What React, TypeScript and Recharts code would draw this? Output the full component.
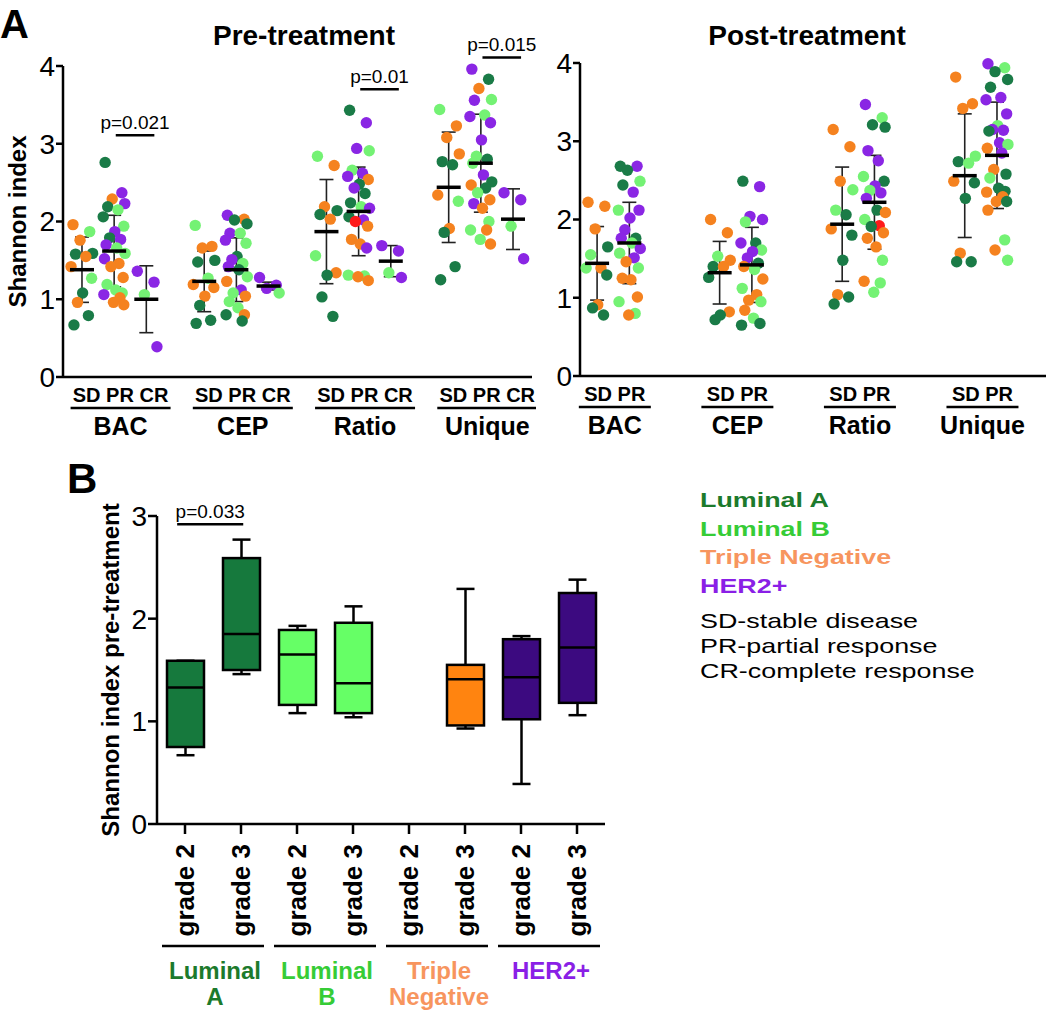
import {
  Bar,
  ComposedChart,
  ErrorBar,
  Line,
  ReferenceLine,
  Scatter,
  ScatterChart,
  XAxis,
  YAxis
} from "recharts";

type Pt = [number, string];

// a = Luminal A, b = Luminal B, t = Triple Negative, h = HER2+, r = highlighted sample
const measures = ["BAC", "CEP", "Ratio", "Unique"];
const preResponses = ["SD", "PR", "CR"];
const postResponses = ["SD", "PR"];

const preBacSD: Pt[] = [[1.96, "t"], [1.87, "b"], [1.76, "t"], [1.59, "a"], [1.58, "a"], [1.55, "t"], [1.42, "t"], [1.27, "b"], [1.08, "a"], [0.96, "t"], [0.79, "a"], [0.67, "a"]];
const preBacPR: Pt[] = [[2.76, "a"], [2.37, "h"], [2.29, "t"], [2.23, "h"], [2.19, "a"], [2.15, "b"], [2.06, "a"], [1.94, "b"], [1.87, "h"], [1.79, "a"], [1.77, "h"], [1.7, "h"], [1.66, "b"], [1.59, "b"], [1.52, "h"], [1.46, "t"], [1.42, "t"], [1.28, "t"], [1.19, "b"], [1.12, "b"], [1.08, "b"], [1.06, "h"], [1.02, "t"], [0.96, "t"], [0.93, "t"]];
const preBacCR: Pt[] = [[1.36, "h"], [1.22, "h"], [1.06, "b"], [0.39, "h"]];
const preCepSD: Pt[] = [[1.95, "b"], [1.68, "t"], [1.66, "t"], [1.5, "a"], [1.48, "a"], [1.27, "b"], [1.19, "t"], [1.15, "t"], [1.04, "t"], [0.92, "a"], [0.73, "a"], [0.69, "a"]];
const preCepPR: Pt[] = [[2.08, "h"], [2.03, "t"], [2.02, "a"], [1.97, "a"], [1.85, "h"], [1.85, "b"], [1.76, "h"], [1.72, "b"], [1.55, "a"], [1.51, "h"], [1.46, "b"], [1.42, "h"], [1.38, "a"], [1.29, "b"], [1.23, "t"], [1.12, "h"], [1.08, "b"], [1.04, "t"], [0.97, "b"], [0.89, "b"], [0.8, "t"], [0.8, "a"], [0.72, "a"]];
const preCepCR: Pt[] = [[1.28, "h"], [1.18, "h"], [1.14, "h"], [1.08, "b"]];
const preRatioSD: Pt[] = [[2.84, "b"], [2.72, "t"], [2.19, "t"], [2.14, "a"], [2.09, "a"], [2.03, "t"], [1.56, "b"], [1.34, "t"], [1.31, "a"], [1.03, "a"], [0.78, "a"]];
const preRatioPR: Pt[] = [[3.43, "a"], [3.27, "h"], [2.94, "h"], [2.91, "b"], [2.66, "b"], [2.62, "h"], [2.58, "h"], [2.54, "t"], [2.48, "a"], [2.43, "h"], [2.36, "a"], [2.24, "a"], [2.19, "b"], [2.17, "h"], [2.06, "a"], [2.02, "h"], [2.0, "r"], [1.94, "t"], [1.77, "t"], [1.71, "t"], [1.66, "h"], [1.31, "b"], [1.3, "b"], [1.29, "t"], [1.24, "t"]];
const preRatioCR: Pt[] = [[1.69, "h"], [1.62, "h"], [1.34, "b"], [1.28, "h"]];
const preUniqueSD: Pt[] = [[3.44, "b"], [3.23, "t"], [3.08, "t"], [2.87, "t"], [2.77, "a"], [2.73, "a"], [2.34, "t"], [2.26, "b"], [1.91, "t"], [1.86, "a"], [1.42, "a"], [1.25, "a"]];
const preUniquePR: Pt[] = [[3.96, "h"], [3.83, "a"], [3.71, "t"], [3.57, "b"], [3.56, "h"], [3.37, "b"], [3.35, "h"], [3.27, "h"], [3.05, "h"], [2.84, "b"], [2.8, "a"], [2.75, "b"], [2.6, "h"], [2.51, "a"], [2.47, "t"], [2.43, "a"], [2.37, "b"], [2.28, "t"], [2.23, "h"], [2.17, "t"], [2.0, "b"], [1.89, "b"], [1.89, "t"], [1.77, "b"], [1.71, "t"]];
const preUniqueCR: Pt[] = [[2.37, "h"], [2.28, "h"], [1.94, "b"], [1.52, "h"]];

const postBacSD: Pt[] = [[2.22, "t"], [2.17, "t"], [1.88, "t"], [1.65, "a"], [1.55, "b"], [1.38, "t"], [1.38, "b"], [1.29, "a"], [0.91, "t"], [0.87, "a"], [0.78, "a"]];
const postBacPR: Pt[] = [[2.68, "a"], [2.68, "h"], [2.63, "a"], [2.49, "b"], [2.44, "a"], [2.35, "h"], [2.12, "b"], [2.12, "h"], [2.02, "h"], [1.87, "h"], [1.76, "a"], [1.76, "h"], [1.7, "b"], [1.63, "h"], [1.57, "b"], [1.51, "h"], [1.46, "t"], [1.38, "b"], [1.25, "t"], [1.23, "t"], [1.01, "t"], [0.95, "b"], [0.8, "b"], [0.78, "t"]];
const postCepSD: Pt[] = [[2.0, "t"], [1.83, "t"], [1.53, "b"], [1.48, "t"], [1.4, "a"], [1.4, "t"], [1.26, "a"], [0.82, "t"], [0.78, "a"], [0.72, "a"]];
const postCepPR: Pt[] = [[2.49, "a"], [2.42, "h"], [2.04, "h"], [2.0, "h"], [1.97, "b"], [1.7, "a"], [1.7, "h"], [1.61, "b"], [1.59, "h"], [1.51, "h"], [1.44, "a"], [1.4, "t"], [1.36, "b"], [1.24, "t"], [1.12, "b"], [1.04, "t"], [0.97, "t"], [0.95, "b"], [0.84, "t"], [0.74, "b"], [0.67, "a"], [0.65, "a"]];
const postRatioSD: Pt[] = [[3.15, "t"], [2.93, "t"], [2.49, "t"], [2.38, "b"], [2.12, "b"], [2.06, "a"], [1.88, "t"], [1.8, "a"], [1.48, "a"], [1.04, "t"], [1.01, "a"], [0.92, "a"]];
const postRatioPR: Pt[] = [[3.47, "h"], [3.3, "b"], [3.21, "a"], [3.18, "a"], [2.88, "h"], [2.75, "h"], [2.55, "b"], [2.49, "a"], [2.43, "h"], [2.37, "b"], [2.34, "h"], [2.27, "h"], [2.12, "a"], [2.09, "t"], [2.0, "b"], [1.92, "r"], [1.91, "a"], [1.83, "t"], [1.76, "t"], [1.65, "t"], [1.48, "b"], [1.21, "t"], [1.19, "b"], [1.07, "b"]];
const postUniqueSD: Pt[] = [[3.82, "t"], [3.48, "t"], [3.42, "t"], [2.81, "b"], [2.74, "a"], [2.72, "b"], [2.49, "t"], [2.47, "a"], [2.27, "a"], [1.57, "t"], [1.46, "a"], [1.46, "a"]];
const postUniquePR: Pt[] = [[3.99, "h"], [3.94, "b"], [3.89, "a"], [3.79, "a"], [3.69, "a"], [3.56, "h"], [3.53, "h"], [3.35, "h"], [3.2, "b"], [3.15, "h"], [3.14, "h"], [3.13, "a"], [2.98, "h"], [2.96, "b"], [2.91, "t"], [2.85, "h"], [2.64, "t"], [2.58, "a"], [2.53, "b"], [2.4, "a"], [2.36, "a"], [2.35, "t"], [2.29, "t"], [2.23, "t"], [2.23, "a"], [2.12, "t"], [1.74, "b"], [1.61, "t"], [1.48, "b"]];

// mean and SD per measure, per response
const preMean = [[1.38, 1.62, 1.0], [1.23, 1.38, 1.17], [1.87, 2.13, 1.49], [2.44, 2.75, 2.03]];
const preSd = [[0.42, 0.46, 0.43], [0.39, 0.41, 0.05], [0.67, 0.57, 0.2], [0.71, 0.63, 0.39]];
const postMean = [[1.44, 1.7], [1.32, 1.42], [1.94, 2.22], [2.56, 2.82]];
const postSd = [[0.47, 0.52], [0.4, 0.48], [0.73, 0.6], [0.79, 0.68]];

// significance bars (measure index, height, text)
const preTests = [
  { g: 0, y: 3.11, text: "p=0.021" },
  { g: 2, y: 3.7, text: "p=0.01" },
  { g: 3, y: 4.11, text: "p=0.015" }
];

// panel B
const subtypes = ["Luminal A", "Luminal B", "Triple Negative", "HER2+"];
const subtypeLines = [["Luminal", "A"], ["Luminal", "B"], ["Triple", "Negative"], ["HER2+"]];
const grades = ["grade 2", "grade 3", "grade 2", "grade 3", "grade 2", "grade 3", "grade 2", "grade 3"];
const boxMin = [0.67, 1.46, 1.08, 1.04, null, 0.93, 0.39, 1.06];
const boxQ1 = [0.75, 1.5, 1.16, 1.08, null, 0.96, 1.02, 1.18];
const boxMed = [1.33, 1.85, 1.65, 1.37, null, 1.41, 1.43, 1.72];
const boxQ3 = [1.59, 2.59, 1.89, 1.96, null, 1.55, 1.8, 2.25];
const boxMax = [1.59, 2.77, 1.93, 2.12, null, 2.29, 1.83, 2.38];
const responseKey = ["SD-stable disease", "PR-partial response", "CR-complete response"];

const FONT = '"Liberation Sans", Arial, Helvetica, sans-serif';
const DOT: Record<string, string> = { a: "#1a7b47", b: "#74f274", t: "#f5821f", h: "#8a26e4", r: "#ff1a1a" };
const BOX = ["#16793d", "#66ff66", "#ff8410", "#3c0a80"];
const TXT = ["#1c7a2c", "#36cc36", "#f7955e", "#8a1fe6"];
const GSTEP = 3.8;
const JITTER = [-0.28, 0.24, -0.06, 0.33, -0.2, 0.12, -0.34, 0.3, 0.02, -0.14, 0.2, -0.25, 0.08, 0.34, -0.3, 0.15, -0.1, 0.28, -0.22, 0.05, 0.25, -0.32, 0.18, -0.02, 0.3];

const preCells = [[preBacSD, preBacPR, preBacCR], [preCepSD, preCepPR, preCepCR], [preRatioSD, preRatioPR, preRatioCR], [preUniqueSD, preUniquePR, preUniqueCR]];
const postCells = [[postBacSD, postBacPR], [postCepSD, postCepPR], [postRatioSD, postRatioPR], [postUniqueSD, postUniquePR]];

function toPoints(cells: Pt[][][]) {
  const out: { x: number; y: number; s: string }[] = [];
  cells.forEach((grp, g) =>
    grp.forEach((cell, r) =>
      cell.forEach(([v, s], i) => out.push({ x: g * GSTEP + r + JITTER[i % JITTER.length], y: v, s }))
    )
  );
  return out;
}

function toStats(means: number[][], sds: number[][]) {
  const out: { x: number; y: number; sd: number }[] = [];
  means.forEach((row, g) => row.forEach((m, r) => out.push({ x: g * GSTEP + r, y: m, sd: sds[g][r] })));
  return out;
}

function Dot(props: any) {
  const { cx, cy, payload } = props;
  if (cx == null || cy == null) return null;
  return <circle cx={cx} cy={cy} r={5.7} fill={DOT[payload.s]} />;
}

function MeanBar(props: any) {
  const { cx, cy } = props;
  if (cx == null || cy == null) return null;
  return <line x1={cx - 12} x2={cx + 12} y1={cy} y2={cy} stroke="#000" strokeWidth={3.5} />;
}

function GroupTick(props: any) {
  const { x, y, payload, resp, lineW } = props;
  return (
    <g>
      <text x={x} y={y + 25} textAnchor="middle" fontSize={20} fontWeight="bold" fill="#000">
        {resp}
      </text>
      <line x1={x - lineW / 2} x2={x + lineW / 2} y1={y + 31} y2={y + 31} stroke="#000" strokeWidth={2.5} />
      <text x={x} y={y + 58} textAnchor="middle" fontSize={25} fontWeight="bold" fill="#000">
        {measures[payload.index]}
      </text>
    </g>
  );
}

type ResponseChartProps = {
  cells: Pt[][][];
  means: number[][];
  sds: number[][];
  responses: string[];
  domain: [number, number];
  tickShift: number;
  lineW: number;
  width: number;
  top: number;
  plotH: number;
  yWidth: number;
  yLabel?: string;
  tests: { g: number; y: number; text: string }[];
};

function ResponseChart(p: ResponseChartProps) {
  const points = toPoints(p.cells);
  const stats = toStats(p.means, p.sds);
  const ticks = measures.map((_, g) => g * GSTEP + p.tickShift);
  return (
    <ScatterChart width={p.width} height={445} margin={{ top: p.top, right: 4, bottom: 0, left: 0 }}>
      <XAxis
        type="number"
        dataKey="x"
        domain={p.domain}
        ticks={ticks}
        interval={0}
        tickLine={false}
        tickSize={0}
        tickMargin={0}
        height={445 - p.top - p.plotH}
        axisLine={{ stroke: "#000", strokeWidth: 2.5 }}
        tick={<GroupTick resp={p.responses.join(" ")} lineW={p.lineW} />}
      />
      <YAxis
        type="number"
        dataKey="y"
        domain={[0, 4]}
        ticks={[0, 1, 2, 3, 4]}
        interval={0}
        width={p.yWidth}
        axisLine={{ stroke: "#000", strokeWidth: 2.5 }}
        tickLine={{ stroke: "#000", strokeWidth: 2.5 }}
        tickSize={7}
        tickMargin={1}
        tick={{ fontSize: 28, fill: "#000" }}
        label={
          p.yLabel
            ? {
                value: p.yLabel,
                angle: -90,
                position: "insideLeft",
                offset: 17,
                fontSize: 24,
                fontWeight: "bold",
                fill: "#000",
                style: { textAnchor: "middle" }
              }
            : undefined
        }
      />
      <Scatter data={points} isAnimationActive={false} shape={Dot} />
      <Scatter data={stats} isAnimationActive={false} shape={MeanBar}>
        <ErrorBar dataKey="sd" direction="y" width={7} stroke="#222" strokeWidth={1.6} />
      </Scatter>
      {p.tests.map((t) => (
        <ReferenceLine
          key={t.text}
          segment={[
            { x: t.g * GSTEP + 1.05, y: t.y },
            { x: t.g * GSTEP + 2.25, y: t.y }
          ]}
          stroke="#000"
          strokeWidth={2.5}
          ifOverflow="visible"
          label={{ value: t.text, position: "top", offset: 6, fontSize: 19, fill: "#000" }}
        />
      ))}
    </ScatterChart>
  );
}

function GradeTick(props: any) {
  const { x, y, payload } = props;
  return (
    <text
      transform={`translate(${x},${y + 10}) rotate(-90)`}
      textAnchor="end"
      dominantBaseline="central"
      fontSize={26}
      fontWeight="bold"
      fill="#000"
    >
      {grades[payload.value]}
    </text>
  );
}

function SubtypeTick(props: any) {
  const { x, y, payload } = props;
  const i = payload.index;
  return (
    <g>
      <line x1={x - 51} x2={x + 51} y1={y + 22} y2={y + 22} stroke="#000" strokeWidth={2.5} />
      {subtypeLines[i].map((s, k) => (
        <text key={s} x={x + 2} y={y + 55 + k * 26} textAnchor="middle" fontSize={24} fontWeight="bold" fill={TXT[i]}>
          {s}
        </text>
      ))}
    </g>
  );
}

function BoxShape(props: any) {
  const { x, y, width, height, payload } = props;
  if (payload.min == null || !height) return null;
  const ppu = height / (payload.max - payload.min);
  const py = (v: number) => y + (payload.max - v) * ppu;
  const cx = x + width / 2;
  const cap = 9;
  return (
    <g>
      <line x1={cx} x2={cx} y1={py(payload.max)} y2={py(payload.min)} stroke="#000" strokeWidth={2.5} />
      <line x1={cx - cap} x2={cx + cap} y1={py(payload.max)} y2={py(payload.max)} stroke="#000" strokeWidth={2.5} />
      <line x1={cx - cap} x2={cx + cap} y1={py(payload.min)} y2={py(payload.min)} stroke="#000" strokeWidth={2.5} />
      <rect
        x={x}
        y={py(payload.q3)}
        width={width}
        height={py(payload.q1) - py(payload.q3)}
        fill={payload.color}
        stroke="#000"
        strokeWidth={2.5}
      />
      <line x1={x} x2={x + width} y1={py(payload.med)} y2={py(payload.med)} stroke="#000" strokeWidth={2.5} />
    </g>
  );
}

function GradeChart() {
  const data = grades.map((g, i) => ({
    x: i,
    grade: g,
    min: boxMin[i],
    q1: boxQ1[i],
    med: boxMed[i],
    q3: boxQ3[i],
    max: boxMax[i],
    color: BOX[Math.floor(i / 2)]
  }));
  return (
    <ComposedChart width={620} height={562} data={data} margin={{ top: 66, right: 15, bottom: 0, left: 0 }}>
      <XAxis
        xAxisId="a"
        type="number"
        dataKey="x"
        domain={[-0.5, 7.5]}
        allowDataOverflow
        ticks={grades.map((_, i) => i)}
        interval={0}
        height={100}
        tickSize={10}
        tickMargin={0}
        axisLine={{ stroke: "#000", strokeWidth: 2.5 }}
        tickLine={{ stroke: "#000", strokeWidth: 2.5 }}
        tick={<GradeTick />}
      />
      <XAxis
        xAxisId="b"
        type="number"
        dataKey="x"
        domain={[-0.5, 7.5]}
        allowDataOverflow
        ticks={subtypes.map((_, i) => i * 2 + 0.5)}
        interval={0}
        height={88}
        tickSize={0}
        tickMargin={0}
        axisLine={false}
        tickLine={false}
        tick={<SubtypeTick />}
      />
      <YAxis
        type="number"
        domain={[0, 3]}
        ticks={[0, 1, 2, 3]}
        interval={0}
        width={157}
        axisLine={{ stroke: "#000", strokeWidth: 2.5 }}
        tickLine={{ stroke: "#000", strokeWidth: 2.5 }}
        tickSize={9}
        tickMargin={1}
        tick={{ fontSize: 28, fill: "#000" }}
        label={{
          value: "Shannon index pre-treatment",
          angle: -90,
          position: "insideLeft",
          offset: 110,
          fontSize: 24,
          fontWeight: "bold",
          fill: "#000",
          style: { textAnchor: "middle" }
        }}
      />
      <Bar
        xAxisId="a"
        dataKey={(d: any) => (d.min == null ? null : [d.min, d.max])}
        barSize={37}
        shape={BoxShape}
        isAnimationActive={false}
      />
      {/* median trace on the subtype axis, kept invisible so that axis shares the same scale */}
      <Line
        xAxisId="b"
        dataKey="med"
        stroke="none"
        dot={false}
        activeDot={false}
        isAnimationActive={false}
      />
      <ReferenceLine
        xAxisId="a"
        segment={[
          { x: -0.14, y: 2.92 },
          { x: 1.04, y: 2.92 }
        ]}
        stroke="#000"
        strokeWidth={2.5}
        ifOverflow="visible"
        label={{ value: "p=0.033", position: "top", offset: 6, fontSize: 19, fill: "#000" }}
      />
    </ComposedChart>
  );
}

export default function App() {
  return (
    <div style={{ position: "absolute", left: 0, top: 0, width: 1050, height: 1012, fontFamily: FONT, background: "#fff" }}>
      <div style={{ position: "absolute", left: 0, top: 0 }}>
        <ResponseChart
          cells={preCells}
          means={preMean}
          sds={preSd}
          responses={preResponses}
          domain={[-0.59, 13.99]}
          tickShift={1.2}
          lineW={100}
          width={536}
          top={66}
          plotH={311}
          yWidth={63}
          yLabel="Shannon index"
          tests={preTests}
        />
      </div>
      <div style={{ position: "absolute", left: 520, top: 0 }}>
        <ResponseChart
          cells={postCells}
          means={postMean}
          sds={postSd}
          responses={postResponses}
          domain={[-0.53, 13.92]}
          tickShift={0.55}
          lineW={72}
          width={530}
          top={63}
          plotH={313}
          yWidth={60}
          tests={[]}
        />
      </div>
      <div style={{ position: "absolute", left: 0, top: 450 }}>
        <GradeChart />
      </div>
      <svg width={1050} height={1012} style={{ position: "absolute", left: 0, top: 0, pointerEvents: "none" }}>
        <text x={0} y={38} fontSize={40} fontWeight="bold" fill="#000">A</text>
        <text x={304} y={45} textAnchor="middle" fontSize={28} fontWeight="bold" fill="#000">Pre-treatment</text>
        <text x={807} y={45} textAnchor="middle" fontSize={28} fontWeight="bold" fill="#000">Post-treatment</text>
        <text x={67} y={493} fontSize={42} fontWeight="bold" fill="#000">B</text>
        <g transform="translate(700,0) scale(1.28,1)">
          {subtypes.map((s, i) => (
            <text key={s} x={0} y={507 + i * 28.7} fontSize={21} fontWeight="bold" fill={TXT[i]}>
              {s}
            </text>
          ))}
          {responseKey.map((s, i) => (
            <text key={s} x={0} y={628 + i * 25} fontSize={21} fill="#000">
              {s}
            </text>
          ))}
        </g>
      </svg>
    </div>
  );
}
